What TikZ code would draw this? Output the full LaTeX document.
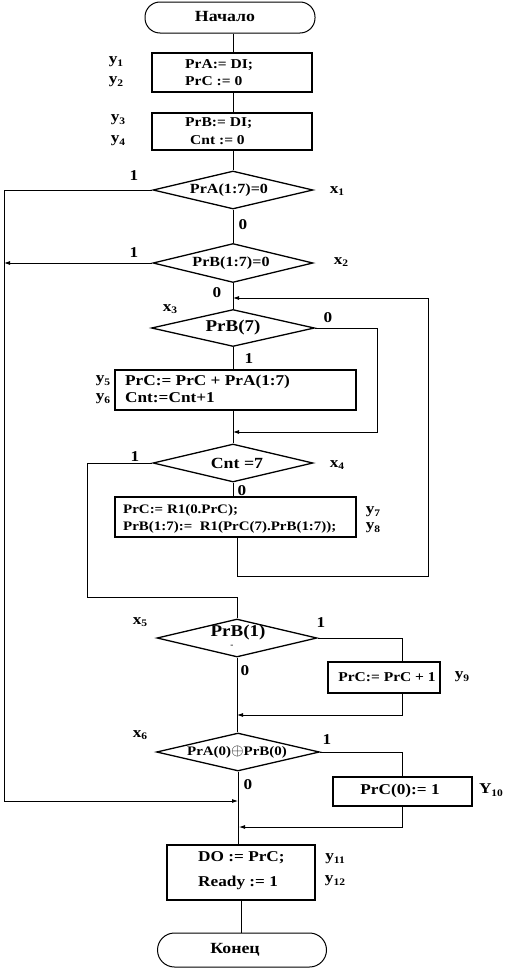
\documentclass[tikz,border=0pt]{standalone}
\usepackage{fontspec}
\setmainfont{Liberation Serif}[FakeStretch=1.15]
\usetikzlibrary{shapes.geometric,arrows.meta}
\newcommand{\fsz}[1]{\fontsize{#1}{#1}\selectfont}
\newcommand{\sbl}[2]{#1\raisebox{-0.35ex}{\fsz{10}#2}}
\begin{document}
\begin{tikzpicture}[x=1pt,y=-1pt,
  font=\bfseries,
  box/.style={draw, line width=1.5pt, inner sep=0},
  term/.style={draw, line width=1pt, rounded corners=15pt, inner sep=0},
  dec/.style={draw, diamond, line width=1.3pt, inner sep=0, aspect=4},
  ln/.style={line width=0.8pt},
  arr/.style={ln, -{Latex[length=6pt,width=4pt]}},
  txt/.style={inner sep=0, anchor=west},
  ctxt/.style={inner sep=0},
  tag/.style={inner sep=0, font=\bfseries\fsz{15}},
]
\useasboundingbox (0,0) rectangle (523,969);

% shapes
\node[term, minimum width=170pt, minimum height=31pt] (start) at (230,17.5) {};
\node[box, minimum width=160pt, minimum height=39pt] (b1) at (232,72.5) {};
\node[box, minimum width=160pt, minimum height=37pt] (b2) at (232,131.5) {};
\node[dec, minimum width=160pt, minimum height=38pt] (d1) at (233,190) {};
\node[dec, minimum width=160pt, minimum height=39pt] (d2) at (233,263) {};
\node[dec, minimum width=163pt, minimum height=37pt] (d3) at (233,328) {};
\node[box, minimum width=241pt, minimum height=40pt] (b5) at (235.5,390) {};
\node[dec, minimum width=160pt, minimum height=38pt] (d4) at (233,463) {};
\node[box, minimum width=241pt, minimum height=40pt] (b7) at (235.5,517) {};
\node[dec, minimum width=160pt, minimum height=38pt] (d5) at (237,638) {};
\node[box, minimum width=112pt, minimum height=31pt] (b9) at (384,677.5) {};
\node[dec, minimum width=163pt, minimum height=38pt] (d6) at (238,752) {};
\node[box, minimum width=139pt, minimum height=29pt] (b10) at (402.5,791.5) {};
\node[box, minimum width=148pt, minimum height=55pt] (b11) at (241,872.5) {};
\node[term, minimum width=169pt, minimum height=34pt, rounded corners=17pt] (end) at (242,950) {};

% texts in shapes
\node[ctxt, font=\bfseries\fsz{15.5}] (tStart) at (225,17) {Начало};
\node[txt, font=\bfseries\fsz{13.5}] (t1a) at (185,65) {PrA:= DI;};
\node[txt, font=\bfseries\fsz{13.5}] (t1b) at (185,81) {PrC := 0};
\node[txt, font=\bfseries\fsz{13.5}] (t2a) at (185,123) {PrB:= DI;};
\node[txt, font=\bfseries\fsz{13.5}] (t2b) at (190,140) {Cnt := 0};
\node[ctxt, font=\bfseries\fsz{14}] (td1) at (229,190) {PrA(1:7)=0};
\node[ctxt, font=\bfseries\fsz{14}] (td2) at (231,263) {PrB(1:7)=0};
\node[ctxt, font=\bfseries\fsz{16.5}] (td3) at (233,328) {PrB(7)};
\node[txt, font=\bfseries\fsz{15}] (t5a) at (125,382) {PrC:= PrC + PrA(1:7)};
\node[txt, font=\bfseries\fsz{15}] (t5b) at (125,398) {Cnt:=Cnt+1};
\node[ctxt, font=\bfseries\fsz{15.5}] (td4) at (237,463) {Cnt =7};
\node[txt, font=\bfseries\fsz{13}] (t7a) at (123,510) {PrC:= R1(0.PrC);};
\node[txt, font=\bfseries\fsz{13}] (t7b) at (123,527) {PrB(1:7):=~~R1(PrC(7).PrB(1:7));};
\node[ctxt, font=\bfseries\fsz{16.5}] (td5) at (238,633) {PrB(1)};
\node[ctxt, font=\bfseries\fsz{8}] (td5m) at (232,646) {-};
\node[ctxt, font=\bfseries\fsz{13.5}] (t9) at (387,677) {PrC:= PrC + 1};
\node[ctxt, font=\bfseries\fsz{13}] (td6) at (237,752) {PrA(0)\scalebox{1.35}{$\oplus$}PrB(0)};
\node[ctxt, font=\bfseries\fsz{15}] (t10) at (400,791) {PrC(0):= 1};
\node[txt, font=\bfseries\fsz{15}] (t11a) at (198,858) {DO := PrC;};
\node[txt, font=\bfseries\fsz{15}] (t11b) at (198,883) {Ready := 1};
\node[ctxt, font=\bfseries\fsz{15.5}] (tEnd) at (235,950) {Конец};

% side labels
\node[tag] (y1) at (116,62) {\sbl{y}{1}};
\node[tag] (y2) at (116,82) {\sbl{y}{2}};
\node[tag] (y3) at (118,120) {\sbl{y}{3}};
\node[tag] (y4) at (118,141) {\sbl{y}{4}};
\node[tag] (x1) at (337,191) {\sbl{x}{1}};
\node[tag] (x2) at (341,262) {\sbl{x}{2}};
\node[tag] (x3) at (170,309) {\sbl{x}{3}};
\node[tag] (y5) at (103,381) {\sbl{y}{5}};
\node[tag] (y6) at (103,399) {\sbl{y}{6}};
\node[tag] (x4) at (337,465) {\sbl{x}{4}};
\node[tag] (y7) at (373,512) {\sbl{y}{7}};
\node[tag] (y8) at (373,528) {\sbl{y}{8}};
\node[tag] (x5) at (140,622) {\sbl{x}{5}};
\node[tag] (y9) at (462,677) {\sbl{y}{9}};
\node[tag] (x6) at (140,735) {\sbl{x}{6}};
\node[tag] (y10) at (491,790) {\sbl{Y}{10}};
\node[tag] (y11) at (335,859) {\sbl{y}{11}};
\node[tag] (y12) at (335,881) {\sbl{y}{12}};

% branch labels
\node[tag] (o1) at (134,176) {1};
\node[tag] (z1) at (243,225) {0};
\node[tag] (o2) at (134,253) {1};
\node[tag] (z2) at (217,293) {0};
\node[tag] (z3) at (328,318) {0};
\node[tag] (o3) at (249,359) {1};
\node[tag] (o4) at (135,457) {1};
\node[tag] (z4) at (242,491) {0};
\node[tag] (o5) at (321,623) {1};
\node[tag] (z5) at (245,671) {0};
\node[tag] (o6) at (327,740) {1};
\node[tag] (z6) at (248,785) {0};

% helper coordinates
\coordinate (lft) at (4,0);
\coordinate (rr) at (428,0);
\coordinate (rx) at (402,0);
\coordinate (j3) at (233,298);
\coordinate (r3) at (377,432);
\coordinate (j4) at (233,432);
\coordinate (l4) at (87,597);
\coordinate (lp7) at (237,576);
\coordinate (j5) at (237,715);
\coordinate (j6) at (238,801);
\coordinate (j7) at (239,827);

% connectors
\draw[ln] (start.south -| d1) -- (d1 |- b1.north);
\draw[ln] (b1.south -| d1) -- (d1 |- b2.north);
\draw[ln] (b2.south -| d1) -- (d1.north);
\draw[ln] (d1.south) -- (d2.north);
\draw[arr] (d1.west) -- (d1.west -| lft) -- (lft |- j6) -- (j6);
\draw[arr] (d2.west) -- (d2.west -| lft);
\draw[ln] (d2.south) -- (d3.north);
\draw[arr] (d3.east) -| (r3) -- (j4);
\draw[ln] (d3.south) -- (d3.south |- b5.north);
\draw[ln] (d3.south |- b5.south) -- (d4.north);
\draw[ln] (d4.west) -| (l4) -- (l4 -| d5) -- (d5.north);
\draw[ln] (d4.south) -- (d4.south |- b7.north);
\draw[arr] (lp7 |- b7.south) -- (lp7) -| (rr |- j3) -- (j3);
\draw[ln] (d5.east) -- (d5.east -| rx) -- (rx |- b9.north);
\draw[arr] (rx |- b9.south) -- (rx |- j5) -- (j5);
\draw[ln] (d5.south) -- (d5.south |- d6.north);
\draw[ln] (d6.east) -- (d6.east -| rx) -- (rx |- b10.north);
\draw[arr] (rx |- b10.south) -- (rx |- j7) -- (j7);
\draw[ln] (d6.south) -- (d6.south |- b11.north);
\draw[ln] (b11.south) -- (b11.south |- end.north);
\end{tikzpicture}
\end{document}
